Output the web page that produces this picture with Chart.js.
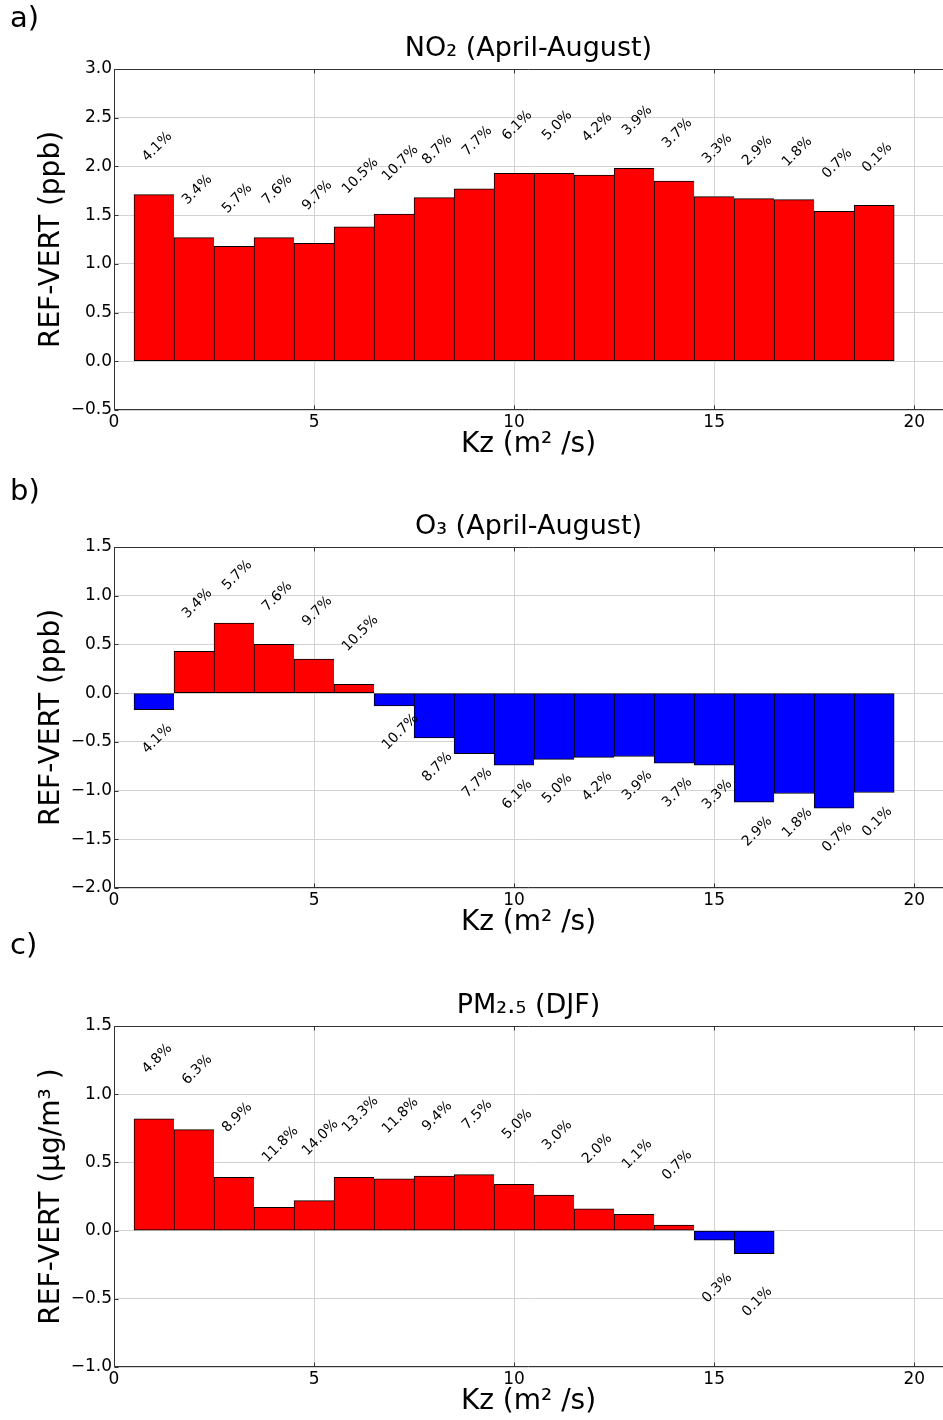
<!DOCTYPE html>
<html>
<head>
<meta charset="utf-8">
<script src="https://cdn.jsdelivr.net/npm/chart.js@4.4.1/dist/chart.umd.min.js"></script>
<style>
  body { margin: 0; background: #fff; }
  #wrap { position: relative; width: 943px; height: 1420px; font-family: "DejaVu Sans", sans-serif; }
  .panel { position: absolute; left: 0; width: 943px; height: 463px; }
  .letter { position: absolute; left: 10px; font-size: 29px; line-height: 1; color: #000; }
</style>
</head>
<body>
<div id="wrap">
  <div class="panel" style="top:0px"><canvas id="chartA"></canvas></div>
  <div class="panel" style="top:478px"><canvas id="chartB"></canvas></div>
  <div class="panel" style="top:957px"><canvas id="chartC"></canvas></div>
  <div class="letter" style="top:3px">a)</div>
  <div class="letter" style="top:476px">b)</div>
  <div class="letter" style="top:930px">c)</div>
</div>
<script>
// Kz bins (m2/s)
var kzSummer = [1, 2, 3, 4, 5, 6, 7, 8, 9, 10, 11, 12, 13, 14, 15, 16, 17, 18, 19];
var kzWinter = [1, 2, 3, 4, 5, 6, 7, 8, 9, 10, 11, 12, 13, 14, 15, 16];

// share of occurrences in each bin (%)
var summerPct = ['4.1', '3.4', '5.7', '7.6', '9.7', '10.5', '10.7', '8.7', '7.7', '6.1',
                 '5.0', '4.2', '3.9', '3.7', '3.3', '2.9', '1.8', '0.7', '0.1'];
var winterPct = ['4.8', '6.3', '8.9', '11.8', '14.0', '13.3', '11.8', '9.4', '7.5', '5.0',
                 '3.0', '2.0', '1.1', '0.7', '0.3', '0.1'];

// REF-VERT differences
var no2Diff = [1.71, 1.27, 1.18, 1.27, 1.21, 1.38, 1.51, 1.68, 1.77, 1.93,
               1.93, 1.91, 1.98, 1.85, 1.69, 1.67, 1.66, 1.54, 1.60];
var o3Diff = [-0.17, 0.43, 0.72, 0.50, 0.35, 0.09, -0.13, -0.46, -0.62, -0.74,
              -0.68, -0.66, -0.65, -0.72, -0.74, -1.12, -1.03, -1.18, -1.02];
var pmDiff = [0.82, 0.74, 0.39, 0.17, 0.22, 0.39, 0.38, 0.40, 0.41, 0.34,
              0.26, 0.16, 0.12, 0.04, -0.07, -0.17];

// axis ticks
var xTicks = [0, 5, 10, 15, 20];
var no2Ticks = [-0.5, 0.0, 0.5, 1.0, 1.5, 2.0, 2.5, 3.0];
var o3Ticks = [-2.0, -1.5, -1.0, -0.5, 0.0, 0.5, 1.0, 1.5];
var pmTicks = [-1.0, -0.5, 0.0, 0.5, 1.0, 1.5];

Chart.defaults.font.family = '"DejaVu Sans", sans-serif';
Chart.defaults.color = '#000';

var gridColor = 'rgba(200,200,200,0.8)';

/* frame, inward ticks and percentage labels */
var annotate = {
  id: 'annotate',
  afterDraw: function(chart) {
    var ctx = chart.ctx, a = chart.chartArea;
    var x = chart.scales.x, y = chart.scales.y;
    ctx.save();
    ctx.strokeStyle = '#333';
    ctx.lineWidth = 1;
    var l = Math.round(a.left) + 0.5, r = Math.round(a.right);
    var t = Math.round(a.top) + 0.5, b = Math.round(a.bottom) - 0.5;
    ctx.beginPath();
    ctx.moveTo(r, t); ctx.lineTo(l, t); ctx.lineTo(l, b); ctx.lineTo(r, b);
    x.ticks.forEach(function(tk) {
      var px = Math.round(x.getPixelForValue(tk.value)) + 0.5;
      ctx.moveTo(px, t); ctx.lineTo(px, t + 4);
      ctx.moveTo(px, b); ctx.lineTo(px, b - 4);
    });
    y.ticks.forEach(function(tk) {
      var py = Math.round(y.getPixelForValue(tk.value)) + 0.5;
      ctx.moveTo(l, py); ctx.lineTo(l + 4, py);
    });
    ctx.stroke();

    var ds = chart.data.datasets[0];
    var size = 14, h = size * 1.164;
    ctx.font = size + 'px "DejaVu Sans"';
    ctx.fillStyle = '#000';
    ctx.textAlign = 'left';
    ctx.textBaseline = 'bottom';
    ds.data.forEach(function(p, i) {
      var ax = x.getPixelForValue(p.x - 0.4);
      var ay = y.getPixelForValue(p.y >= 0 ? p.y + 0.31 : p.y - 0.48);
      ctx.save();
      ctx.translate(ax + h * Math.SQRT1_2, ay);
      ctx.rotate(-Math.PI / 4);
      ctx.fillText(ds.pct[i] + '%', 0, 0);
      ctx.restore();
    });
    ctx.restore();
  }
};

function makePanel(id, title, yTitle, kz, diffs, pcts, yTicks) {
  var n = kz.length;
  var points = kz.map(function(k, i) { return {x: k, y: diffs[i]}; });
  return new Chart(document.getElementById(id), {
    type: 'bar',
    data: {
      datasets: [{
        data: points,
        pct: pcts,
        backgroundColor: function(c) { return c.raw && c.raw.y < 0 ? '#0000ff' : '#ff0000'; },
        borderColor: '#000',
        borderWidth: function(c) {
          return {left: 1, top: 1, bottom: 1, right: c.dataIndex === n - 1 ? 1 : 0};
        },
        borderSkipped: false,
        barPercentage: 1,
        categoryPercentage: 1
      }]
    },
    options: {
      responsive: true,
      maintainAspectRatio: false,
      animation: false,
      layout: { padding: { top: 35, right: 0, bottom: 0, left: 0 } },
      plugins: {
        legend: { display: false },
        tooltip: { enabled: false },
        title: {
          display: true,
          text: title,
          fullSize: false,
          color: '#000',
          font: { size: 27, weight: 'normal', lineHeight: 1 },
          padding: { top: 0, bottom: 7 }
        }
      },
      scales: {
        x: {
          type: 'linear',
          min: 0,
          max: 20.72,
          offset: false,
          z: 1,
          afterBuildTicks: function(s) { s.ticks = xTicks.map(function(v) { return {value: v}; }); },
          afterFit: function(s) { s.height = 53; },
          grid: { color: gridColor, drawTicks: false, offset: false },
          border: { display: false },
          ticks: { font: { size: 17 }, color: '#000', padding: 2, callback: function(v) { return String(v); } },
          title: {
            display: true,
            text: 'Kz (m² /s)',
            color: '#000',
            font: { size: 28, lineHeight: 1 },
            padding: { top: 0, bottom: 4 }
          }
        },
        y: {
          min: yTicks[0],
          max: yTicks[yTicks.length - 1],
          z: 1,
          afterBuildTicks: function(s) { s.ticks = yTicks.map(function(v) { return {value: v}; }); },
          afterFit: function(s) { s.width = 114; },
          grid: { color: gridColor, drawTicks: false },
          border: { display: false },
          ticks: {
            font: { size: 17 },
            color: '#000',
            padding: 2,
            callback: function(v) { return (v < 0 ? '\u2212' : '') + Math.abs(v).toFixed(1); }
          },
          title: {
            display: true,
            text: yTitle,
            color: '#000',
            font: { size: 28, lineHeight: 1 },
            padding: { top: 38, bottom: 0 }
          }
        }
      }
    },
    plugins: [annotate]
  });
}

makePanel('chartA', 'NO₂ (April-August)', 'REF-VERT (ppb)', kzSummer, no2Diff, summerPct, no2Ticks);
makePanel('chartB', 'O₃ (April-August)', 'REF-VERT (ppb)', kzSummer, o3Diff, summerPct, o3Ticks);
makePanel('chartC', 'PM₂.₅ (DJF)', 'REF-VERT (μg/m³ )', kzWinter, pmDiff, winterPct, pmTicks);
</script>
</body>
</html>
